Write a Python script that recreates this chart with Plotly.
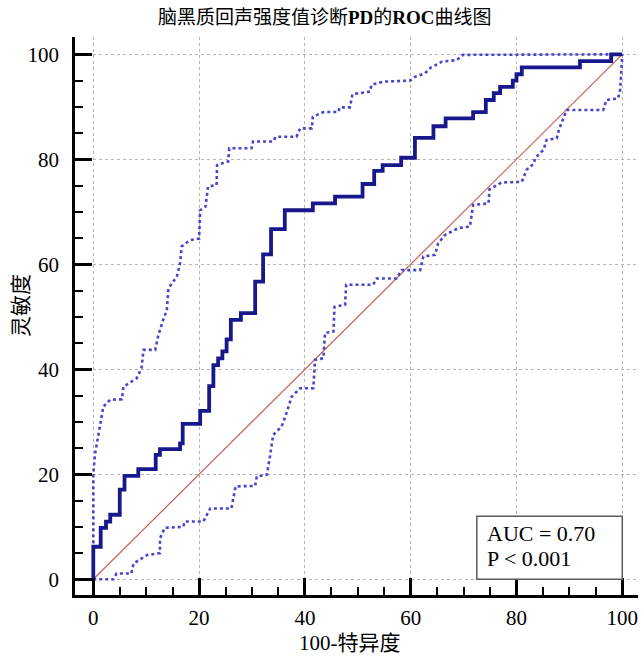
import plotly.graph_objects as go

# ---- data ----
roc_x = [0, 0, 1.4, 2.4, 3.2, 5.0, 5.9, 8.5, 11.8, 12.6, 16.4, 16.9, 20.2, 21.9, 22.7, 23.6,
         24.4, 25.2, 26.0, 27.9, 30.6, 32.1, 33.6, 36.2, 41.5, 45.7, 50.9, 53.1, 54.7, 58.2,
         60.8, 64.3, 66.6, 71.8, 74.2, 75.7, 76.9, 79.3, 80.0, 81.0, 92.0, 97.9, 100]
roc_y = [0, 6.2, 9.8, 11.0, 12.3, 17.1, 19.7, 21.0, 23.7, 24.8, 25.9, 29.6, 32.1, 36.8, 40.8, 42.1,
         43.4, 45.7, 49.4, 50.7, 56.7, 61.9, 66.7, 70.3, 71.6, 72.9, 75.3, 77.8, 78.9, 80.3,
         84.1, 86.3, 87.8, 89.0, 91.3, 92.6, 93.8, 95.0, 96.2, 97.5, 98.7, 100, 100]

upper_x = [0, 0, 0.3, 1.3, 1.9, 3.2, 5.4, 5.7, 8.2, 9.1, 9.5, 11.7, 12.3, 13.2, 13.9, 14.2, 15.8,
           16.4, 16.7, 18.3, 20.0, 20.2, 21.2, 21.7, 23.3, 23.4, 25.5, 25.7, 29.9, 30.2, 34.0,
           34.5, 38.4, 39.1, 41.3, 41.5, 43.5, 46.3, 46.6, 48.5, 49.0, 52.3, 52.6, 54.9, 59.9,
           60.8, 62.7, 63.7, 65.9, 68.7, 69.9, 100]
upper_y = [0, 20.2, 23.7, 29.7, 32.9, 34.2, 34.3, 36.7, 38.3, 40.2, 43.7, 43.7, 46.5, 49.4, 51.3,
           55.4, 57.7, 60.2, 63.4, 64.6, 64.9, 70.3, 71.0, 74.8, 75.1, 78.9, 79.6, 82.1, 82.1,
           83.4, 83.4, 84.3, 84.3, 85.9, 85.9, 88.1, 89.0, 89.0, 89.9, 89.9, 92.4, 92.9, 94.2,
           94.8, 95.0, 95.7, 96.4, 97.4, 98.6, 98.9, 99.9, 100]

lower_x = [0, 3.8, 4.4, 7.2, 7.6, 10.1, 12.6, 12.6, 13.5, 17.0, 17.3, 20.8, 22.1, 26.1, 26.9,
           30.6, 30.9, 32.8, 33.4, 34.0, 35.6, 36.5, 37.5, 39.1, 41.6, 41.9, 43.5, 43.8, 45.4,
           45.6, 47.6, 47.8, 52.9, 53.6, 57.3, 58.3, 61.8, 62.4, 64.6, 65.2, 66.5, 69.0, 71.2,
           71.8, 74.7, 74.9, 77.2, 81.0, 81.9, 83.3, 83.5, 85.1, 85.7, 87.6, 88.1, 88.9, 89.5,
           96.4, 97.0, 99.2, 99.6, 100]
lower_y = [0, 0, 1.1, 1.1, 3.0, 4.6, 5.0, 7.8, 9.8, 10.0, 11.0, 11.0, 13.5, 13.5, 17.7,
           17.8, 19.6, 19.9, 23.4, 27.5, 29.1, 31.6, 34.8, 36.4, 36.4, 41.8, 42.1, 46.9, 47.2,
           51.9, 52.3, 56.1, 56.1, 57.3, 57.3, 58.9, 58.9, 61.5, 61.8, 64.0, 65.6, 66.9, 67.2,
           71.3, 71.6, 74.3, 75.6, 75.7, 78.0, 79.2, 80.2, 81.8, 83.7, 84.0, 85.9, 88.1, 89.4,
           89.4, 91.3, 91.6, 93.2, 100]

diag_x = [0, 100]
diag_y = [0, 100]

tick_vals = [0, 20, 40, 60, 80, 100]
tick_text = ["0", "20", "40", "60", "80", "100"]

title_text = "脑黑质回声强度值诊断<b>PD</b>的<b>ROC</b>曲线图"
x_title = "100-特异度"
y_title = "灵敏度"
auc_text = "AUC = 0.70"
p_text = "P < 0.001"

FONT = "Liberation Serif, Times New Roman, Noto Sans CJK SC, serif"

fig = go.Figure()
fig.add_trace(go.Scatter(x=diag_x, y=diag_y, mode="lines",
                         line=dict(color="rgb(200,95,85)", width=1.2), hoverinfo="skip"))
fig.add_trace(go.Scatter(x=upper_x, y=upper_y, mode="lines",
                         line=dict(color="rgb(70,70,205)", width=2.6, dash="dot")))
fig.add_trace(go.Scatter(x=lower_x, y=lower_y, mode="lines",
                         line=dict(color="rgb(70,70,205)", width=2.6, dash="dot")))
fig.add_trace(go.Scatter(x=roc_x, y=roc_y, mode="lines", line_shape="hv",
                         line=dict(color="rgb(24,24,140)", width=3.8)))

# AUC box
fig.add_shape(type="rect", x0=72.5, x1=100, y0=0, y1=12, xref="x", yref="y",
              line=dict(color="rgb(90,90,90)", width=1.5), fillcolor="white", layer="above")
fig.add_annotation(x=74.0, y=8.8, xref="x", yref="y", text=auc_text, showarrow=False,
                   xanchor="left", yanchor="middle", font=dict(family=FONT, size=22, color="black"))
fig.add_annotation(x=74.0, y=3.9, xref="x", yref="y", text=p_text, showarrow=False,
                   xanchor="left", yanchor="middle", font=dict(family=FONT, size=22, color="black"))

W, H = 641, 659
L, R, T, B = 75, 3, 37, 64
pw, ph = W - L - R, H - T - B

def px_to_paper(px, py):
    return (px - L) / pw, (H - B - py) / ph

tx, ty = px_to_paper(325, 18)
fig.add_annotation(x=tx, y=ty, xref="paper", yref="paper", text=title_text, showarrow=False,
                   xanchor="center", yanchor="middle", font=dict(family=FONT, size=19, color="black"))
xx, xy = px_to_paper(350, 643)
fig.add_annotation(x=xx, y=xy, xref="paper", yref="paper", text=x_title, showarrow=False,
                   xanchor="center", yanchor="middle", font=dict(family=FONT, size=21, color="black"))
yx, yy = px_to_paper(21, 306)
fig.add_annotation(x=yx, y=yy, xref="paper", yref="paper", text=y_title, showarrow=False,
                   textangle=-90, xanchor="center", yanchor="middle",
                   font=dict(family=FONT, size=21, color="black"))

axis_common = dict(
    showline=True, linecolor="black", linewidth=2.5, mirror=False,
    ticks="inside", ticklen=17, tickwidth=2.5, tickcolor="black",
    tickmode="array", tickvals=tick_vals, ticktext=tick_text,
    tickfont=dict(family=FONT, size=21, color="black"),
    showgrid=True, gridcolor="rgb(180,180,180)", gridwidth=1, griddash="dot",
    zeroline=False, automargin=False,
    minor=dict(tickmode="linear", tick0=0, dtick=5, ticks="inside", ticklen=8,
               tickwidth=2, tickcolor="black", showgrid=False),
    fixedrange=True,
)
fig.update_xaxes(range=[-3.46, 102.97], ticklabelstandoff=2, **axis_common)
fig.update_yaxes(range=[-2.99, 103.3], ticklabelstandoff=9, **axis_common)

fig.update_layout(
    width=W, height=H, margin=dict(l=L, r=R, t=T, b=B, pad=0, autoexpand=False),
    paper_bgcolor="white", plot_bgcolor="white", showlegend=False,
    font=dict(family=FONT, color="black"),
)

fig.write_html("out.html", config={"displayModeBar": False},
               post_script="document.body.style.margin='0';document.body.style.overflow='hidden';")
